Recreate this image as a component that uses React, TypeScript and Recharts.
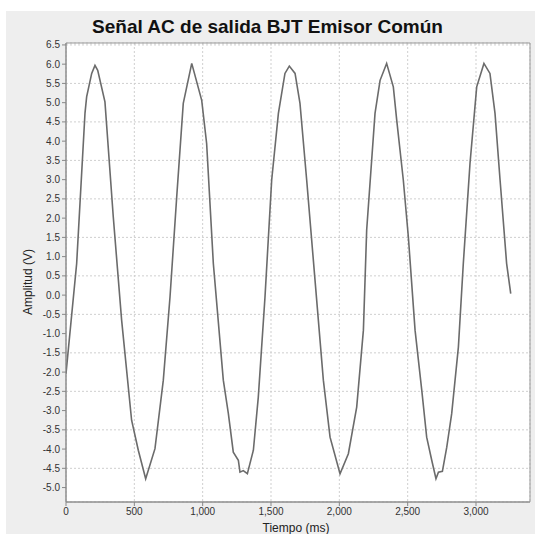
import {
  CartesianGrid,
  Label,
  Line,
  LineChart,
  ReferenceArea,
  XAxis,
  YAxis,
} from "recharts";

// values (time in ms, amplitude in V)
const timeMs = [
  0, 78, 139, 151, 188, 212, 232, 285, 346, 407, 480, 529, 583, 651, 712, 761,
  810, 858, 920, 993, 1029, 1078, 1151, 1188, 1224, 1261, 1273, 1297, 1327,
  1371, 1407, 1456, 1505, 1554, 1602, 1634, 1676, 1712, 1761, 1822, 1883, 1932,
  2005, 2066, 2127, 2176, 2200, 2261, 2298, 2346, 2395, 2420, 2468, 2505, 2554,
  2603, 2639, 2676, 2707, 2725, 2754, 2786, 2822, 2871, 2907, 2956, 3005, 3058,
  3102, 3139, 3176, 3224, 3254,
];
const amplitude = [
  -2.04, 0.82, 4.73, 5.15, 5.76, 5.97, 5.84, 5.02, 2.03, -0.65, -3.25, -4.03,
  -4.77, -3.99, -2.21, -0.05, 2.55, 4.98, 6.02, 5.06, 3.94, 0.82, -2.21, -3.08,
  -4.08, -4.29, -4.6, -4.56, -4.64, -4.03, -2.65, -0.05, 2.99, 4.72, 5.76, 5.95,
  5.76, 4.98, 2.99, 0.39, -2.21, -3.69, -4.64, -4.12, -2.91, -0.91, 1.69, 4.72,
  5.58, 6.02, 5.41, 4.54, 2.99, 1.51, -0.91, -2.47, -3.69, -4.29, -4.77, -4.6,
  -4.58, -3.95, -3.08, -1.35, 0.82, 3.42, 5.41, 6.02, 5.76, 4.72, 2.99, 0.82,
  0.04,
];
const xTicks = [0, 500, 1000, 1500, 2000, 2500, 3000];
const yTicks = [
  -5, -4.5, -4, -3.5, -3, -2.5, -2, -1.5, -1, -0.5, 0, 0.5, 1, 1.5, 2, 2.5, 3,
  3.5, 4, 4.5, 5, 5.5, 6, 6.5,
];

const X_MAX = 3395;
const Y_MIN = -5.375;
const Y_MAX = 6.55;

const data = timeMs.map((t, i) => ({ t, v: amplitude[i] }));

const font = "'Liberation Sans', Arial, sans-serif";
const tickStyle = { fontSize: 10, fill: "#333", fontFamily: font };

export default function App() {
  return (
    <div
      style={{
        position: "absolute",
        left: 0,
        top: 0,
        width: 535,
        height: 534,
        background: "#fff",
        overflow: "hidden",
      }}
    >
      <div
        style={{
          position: "absolute",
          left: 6,
          top: 11,
          width: 529,
          height: 523,
          background: "#eeeeee",
        }}
      />
      <div
        style={{
          position: "absolute",
          left: 0,
          top: 16,
          width: 535,
          textAlign: "center",
          fontFamily: font,
          fontWeight: "bold",
          fontSize: 19,
          color: "#111",
        }}
      >
        Señal AC de salida BJT Emisor Común
      </div>
      <div style={{ position: "absolute", left: 0, top: 0 }}>
        <LineChart
          width={535}
          height={534}
          data={data}
          margin={{ top: 43, right: 5, bottom: 0, left: 30 }}
        >
          <CartesianGrid
            stroke="#cfcfcf"
            strokeDasharray="2 2"
            fill="#fff"
            vertical
            horizontal
          />
          <XAxis
            dataKey="t"
            type="number"
            domain={[0, X_MAX]}
            ticks={xTicks}
            tickFormatter={(v: number) => v.toLocaleString("en-US")}
            tick={tickStyle}
            tickLine={{ stroke: "#888" }}
            tickSize={4}
            axisLine={{ stroke: "#888" }}
            allowDataOverflow
            height={32}
          >
            <Label
              content={() => (
                <text
                  x={296}
                  y={532}
                  textAnchor="middle"
                  fontFamily={font}
                  fontSize={12}
                  fill="#222"
                >
                  Tiempo (ms)
                </text>
              )}
            />
          </XAxis>
          <YAxis
            type="number"
            domain={[Y_MIN, Y_MAX]}
            ticks={yTicks}
            tickFormatter={(v: number) => v.toFixed(1)}
            tick={tickStyle}
            tickLine={{ stroke: "#888" }}
            tickSize={4}
            axisLine={{ stroke: "#888" }}
            allowDataOverflow
            width={36}
          >
            <Label
              content={() => (
                <text
                  x={32}
                  y={282}
                  transform="rotate(-90 32 282)"
                  textAnchor="middle"
                  fontFamily={font}
                  fontSize={12}
                  fill="#222"
                >
                  Amplitud (V)
                </text>
              )}
            />
          </YAxis>
          <ReferenceArea
            x1={0}
            x2={X_MAX}
            y1={Y_MIN}
            y2={Y_MAX}
            fill="none"
            stroke="#999"
            strokeWidth={1}
          />
          <Line
            type="linear"
            dataKey="v"
            stroke="#6b6b6b"
            strokeWidth={1.6}
            dot={false}
            isAnimationActive={false}
          />
        </LineChart>
      </div>
    </div>
  );
}
